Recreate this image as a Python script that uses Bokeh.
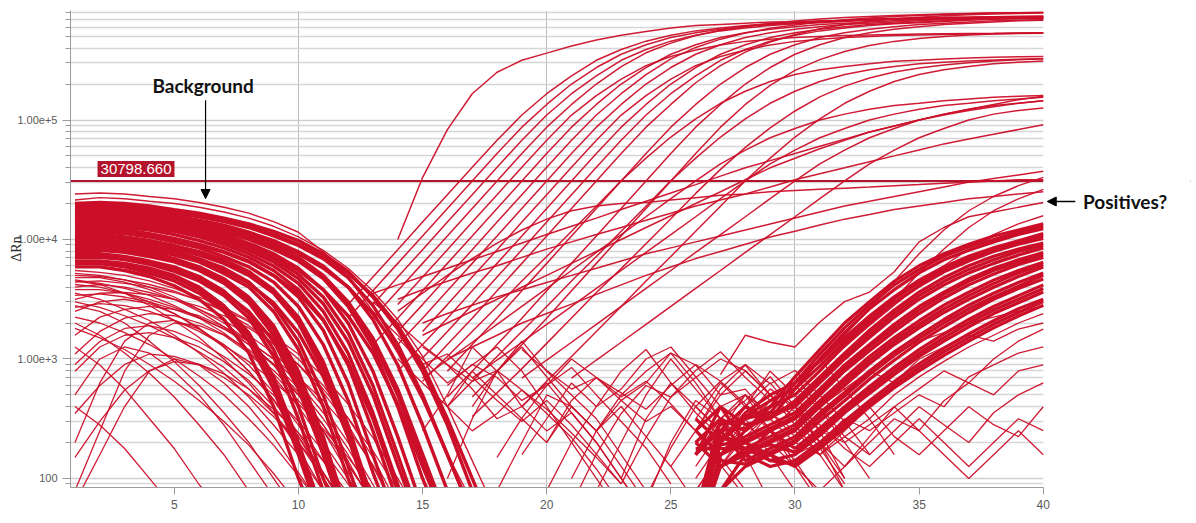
import math
from bokeh.plotting import figure
from bokeh.models import Range1d, FixedTicker, CustomJSTickFormatter, Span, Label, Arrow, NormalHead, BoxAnnotation
from bokeh.embed import file_html
from bokeh.resources import INLINE

# ---------------- data ----------------
x_ticks = [5, 10, 15, 20, 25, 30, 35, 40]
x_grid_ticks = [10, 20, 30]
y_tick_values = [100, 1000, 10000, 100000]
y_tick_labels = ["100", "1.00e+3", "1.00e+4", "1.00e+5"]
threshold = 30798.66
threshold_text = "30798.660"
last_cycle = 40

# background curves: values at cycles 1, 2, 3, ...
background_top = [
    [24000, 24500, 24000, 22900, 21900, 20400, 18600, 16600, 14100, 11500, 7900, 4800, 2500, 1120, 450, 160, 63],
    [21400, 22400, 21900, 20900, 20000, 18600, 17000, 15100, 12900, 10500, 8100, 5750, 3700, 2140, 1050, 400, 141, 50],
]
background_band = [
    [20000, 20400, 20000, 19100, 17800, 16600, 15100, 13500, 11700, 9800, 7600, 5400, 3300, 1780, 790, 280, 79],
    [18600, 19100, 18600, 17800, 16600, 15500, 14100, 12600, 10700, 8900, 6900, 4800, 2800, 1320, 500, 158, 50],
    [17800, 18200, 17800, 17000, 15800, 14500, 13200, 11500, 9800, 7900, 6000, 4000, 2140, 890, 280, 79],
    [16600, 17000, 16600, 15800, 14800, 13500, 12000, 10500, 8900, 7100, 5000, 3000, 1410, 500, 141, 40],
    [15800, 16200, 15800, 15100, 14100, 12900, 11500, 10000, 8300, 6600, 4700, 2750, 1260, 400, 100, 32],
    [15100, 15500, 15100, 14500, 13500, 12300, 11000, 9300, 7600, 5750, 3800, 2000, 790, 224, 56],
    [14100, 14500, 14100, 13500, 12600, 11500, 10000, 8500, 6900, 5100, 3300, 1660, 600, 158, 40],
    [13200, 13500, 13200, 12600, 11700, 10500, 9100, 7600, 6000, 4300, 2500, 1120, 355, 89, 25],
    [12600, 12900, 12600, 12000, 11000, 9800, 8500, 7100, 5500, 3800, 2140, 890, 250, 63],
    [12000, 12300, 12000, 11200, 10200, 9100, 7900, 6600, 5000, 3300, 1740, 630, 158, 40],
    [11200, 11500, 11200, 10500, 9500, 8500, 7200, 5900, 4400, 2750, 1320, 450, 112, 32],
    [10700, 11000, 10500, 9800, 8900, 7900, 6800, 5400, 3800, 2240, 950, 280, 63],
    [10000, 10200, 9800, 9100, 8300, 7400, 6300, 5000, 3550, 2000, 790, 224, 50],
    [9500, 9800, 9300, 8700, 7900, 6900, 5750, 4400, 2800, 1410, 500, 126, 32],
    [8900, 9100, 8700, 8100, 7400, 6500, 5200, 4000, 2500, 1200, 400, 100, 32],
    [8500, 8700, 8300, 7800, 6900, 5900, 4700, 3300, 1900, 790, 224, 50],
    [7900, 8100, 7800, 7200, 6500, 5500, 4300, 2950, 1580, 630, 158, 40],
    [7600, 7600, 7200, 6600, 5900, 4900, 3700, 2400, 1200, 400, 100, 32],
    [7100, 7100, 6800, 6200, 5400, 4500, 3400, 2200, 1050, 316, 79],
    [6600, 6600, 6300, 5750, 5000, 4000, 2800, 1660, 710, 200, 50],
    [6300, 6300, 5900, 5200, 4500, 3550, 2500, 1410, 560, 158, 40],
    [5900, 5900, 5500, 4900, 4100, 3160, 2140, 1120, 400, 100, 32],
    [19500, 20000, 19500, 18600, 17400, 15800, 14500, 12900, 11000, 9100, 7200, 5200, 3400, 1900, 890, 316, 100, 32],
    [17400, 17800, 17400, 16600, 15500, 14100, 12600, 11000, 9300, 7600, 5750, 4000, 2400, 1200, 480, 158, 50],
    [14500, 14800, 14500, 13800, 12900, 11700, 10500, 8900, 7200, 5500, 3800, 2300, 1120, 420, 126, 40],
    [11500, 11700, 11500, 11000, 10000, 8900, 7800, 6500, 5000, 3550, 2100, 950, 316, 79],
    [9100, 9300, 8900, 8300, 7600, 6600, 5500, 4300, 2950, 1660, 710, 224, 56],
    [7200, 7200, 6900, 6300, 5600, 4700, 3600, 2500, 1410, 560, 158, 40],
    [16200, 16600, 16200, 15500, 14500, 13200, 11700, 10200, 8500, 6800, 4900, 3000, 1500, 560, 160, 45],
    [13800, 14100, 13800, 13100, 12100, 11000, 9600, 8100, 6500, 4700, 2900, 1400, 500, 130, 35],
    [10400, 10600, 10200, 9500, 8600, 7600, 6500, 5200, 3700, 2100, 870, 250, 56],
    [8200, 8400, 8000, 7500, 6700, 5700, 4500, 3100, 1750, 700, 190, 45],
    [6500, 6500, 6100, 5500, 4800, 3800, 2650, 1550, 640, 180, 45],
]
background_loose = [
    [5200, 5000, 4600, 4000, 3300, 2600, 2000, 1410, 890, 500, 250, 112, 50],
    [4500, 4200, 3550, 2800, 2100, 1510, 1000, 630, 355, 178, 79],
    [4000, 4200, 4000, 3600, 3160, 2600, 2100, 1580, 1120, 710, 400, 200, 89, 40],
    [3550, 3160, 2600, 2100, 1580, 1120, 760, 480, 280, 158, 79],
    [3160, 3550, 3600, 3450, 3160, 2750, 2300, 1820, 1320, 890, 525, 280, 126, 50],
    [2800, 2500, 2000, 1410, 950, 600, 355, 200, 100, 50],
    [2500, 3000, 3160, 2900, 2400, 1820, 1260, 790, 450, 224, 100, 50],
    [2000, 1580, 1120, 760, 480, 280, 158, 79],
    [1580, 2240, 2600, 2750, 2600, 2300, 1860, 1410, 1000, 630, 355, 178, 79],
    [1260, 890, 560, 316, 178, 89, 50],
    [790, 1260, 1580, 1660, 1510, 1260, 950, 660, 400, 224, 112, 56],
    [500, 1000, 1260, 1120, 790, 500, 280, 141, 71],
    [400, 280, 178, 100, 56],
    [79, 250, 790, 1580, 2000, 1900, 1580, 1120, 710, 400, 200, 100, 50],
    [63, 158, 400, 790, 1000, 890, 630, 400, 224, 112, 56],
    [200, 630, 1410, 2000, 2100, 1780, 1320, 890, 525, 280, 141, 63],
    [4800, 4800, 4400, 3800, 3160, 2500, 1860, 1320, 890, 525, 280, 132, 63],
    [3800, 3800, 3550, 3160, 2700, 2240, 1780, 1320, 910, 575, 316, 158, 71],
    [2240, 2000, 1660, 1320, 1000, 720, 500, 316, 190, 105, 56],
    [4200, 4000, 3550, 3000, 2400, 1780, 1260, 790, 460, 240, 112, 50],
    [5500, 5300, 5000, 4500, 3900, 3300, 2700, 2100, 1500, 1000, 600, 320, 150, 60],
    [3400, 3500, 3300, 3000, 2600, 2200, 1800, 1400, 1000, 700, 450, 260, 130, 55],
    [1100, 1700, 2200, 2400, 2300, 2000, 1600, 1200, 800, 500, 280, 140, 60],
    [3000, 2700, 2300, 1900, 1500, 1150, 850, 560, 350, 200, 100, 50],
    [4600, 4300, 3900, 3400, 2800, 2200, 1650, 1150, 750, 450, 250, 130, 65],
    [2700, 2900, 2800, 2500, 2100, 1700, 1300, 950, 650, 420, 260, 150, 80],
    [1800, 1500, 1200, 900, 650, 450, 300, 190, 110, 60],
    [900, 1400, 1800, 1900, 1700, 1400, 1050, 750, 500, 300, 170, 90, 45],
    [350, 600, 900, 1100, 1050, 900, 700, 500, 330, 200, 110, 55],
    [5000, 4900, 4600, 4200, 3700, 3100, 2500, 1900, 1350, 900, 560, 320, 170, 80],
    [150, 300, 550, 800, 950, 900, 750, 560, 380, 240, 140, 75],
    [4400, 4500, 4300, 4000, 3600, 3100, 2600, 2050, 1550, 1100, 720, 420, 220, 100, 45],
]

# low, jagged curves in the middle cycles
noise_start = [14, 15, 16, 18, 19, 20, 21, 22, 17, 23, 13, 24, 25, 15, 16, 20,
               14, 18, 21, 23, 13, 19, 24, 16]
noise_values = [
    [1000, 630, 400, 790, 500, 316, 200, 400, 250, 126, 63],
    [250, 500, 1260, 790, 400, 250, 355, 200, 100, 50],
    [100, 316, 790, 1410, 790, 500, 316, 158, 79],
    [79, 200, 500, 400, 250, 500, 790, 1120, 630, 316, 158, 63],
    [158, 316, 630, 400, 560, 1000, 1260, 710, 400, 500, 250, 126, 63],
    [79, 200, 400, 790, 1200, 630, 355, 224, 316, 158, 79],
    [100, 250, 450, 630, 1120, 890, 500, 560, 316, 400, 200, 100],
    [79, 200, 500, 1000, 560, 316, 450, 710, 400, 200, 79],
    [400, 790, 1260, 710, 400, 250, 400, 224, 126, 63],
    [100, 316, 630, 400, 250, 400, 790, 500, 250, 100],
    [2500, 1580, 1000, 630, 890, 1260, 790, 400, 200, 100, 50],
    [63, 200, 450, 316, 200, 355, 630, 1000, 560, 316, 158],
    [126, 250, 560, 890, 500, 280, 158, 79],
    [1260, 890, 560, 316, 400, 630, 355, 200, 100, 50],
    [600, 900, 700, 450, 600, 850, 500, 300, 180, 90],
    [200, 450, 700, 520, 380, 600, 900, 650, 420, 260, 140, 70],
    [1500, 900, 1100, 700, 450, 300, 450, 280, 160, 90],
    [150, 320, 600, 1000, 700, 480, 650, 420, 250, 130, 70],
    [60, 160, 350, 600, 480, 700, 1000, 800, 500, 320, 180, 90],
    [90, 220, 480, 800, 1150, 700, 450, 600, 380, 200, 100],
    [3000, 2000, 1300, 900, 650, 800, 550, 350, 220, 120, 60],
    [1200, 800, 560, 700, 450, 300, 400, 250, 150, 80],
    [70, 180, 400, 650, 900, 620, 800, 500, 300, 160],
    [400, 250, 350, 550, 380, 240, 150, 90],
]

# amplification curves: first cycle and values
amp_start = [14, 12, 12, 13, 13, 14, 13, 14, 14, 15, 14, 15, 15, 16, 16, 17,
             15, 16, 17, 19, 15, 17, 19, 21, 14, 15, 14, 15, 16, 13]
amp_values = [
    [10000, 33000, 83000, 166000, 251000, 316000, 363000, 417000, 468000, 513000, 550000, 589000, 617000, 631000, 646000, 661000, 661000, 676000, 676000, 692000, 692000, 692000, 708000, 708000, 708000, 708000, 724000],
    [2850, 4850, 8200, 14000, 23700, 40300, 67600, 110000, 166000, 234000, 316000, 389000, 457000, 513000, 557000, 589000, 617000, 638000, 653000, 668000, 684000, 700000, 708000, 716000, 720000, 725000, 730000, 735000, 740000],
    [2190, 3720, 6310, 10700, 18200, 30900, 52500, 87100, 135000, 200000, 275000, 355000, 427000, 490000, 537000, 575000, 603000, 631000, 646000, 661000, 676000, 692000, 708000, 708000, 724000, 724000, 730000, 735000, 740000],
    [2850, 4850, 8200, 14000, 23700, 40300, 67600, 110000, 166000, 234000, 316000, 389000, 457000, 513000, 557000, 589000, 617000, 638000, 653000, 668000, 684000, 700000, 708000, 716000, 720000, 725000, 730000, 735000],
    [2190, 3720, 6310, 10700, 18200, 30900, 52500, 87100, 135000, 200000, 280000, 365000, 440000, 510000, 565000, 610000, 645000, 675000, 700000, 720000, 735000, 750000, 760000, 770000, 780000, 785000, 790000, 795000],
    [2850, 4850, 8200, 14000, 23700, 40300, 67600, 110000, 160000, 220000, 285000, 340000, 385000, 425000, 455000, 475000, 490000, 500000, 510000, 515000, 520000, 525000, 528000, 530000, 532000, 535000, 538000],
    [1320, 2190, 3720, 6310, 10700, 18200, 30900, 52500, 87100, 135000, 200000, 275000, 355000, 427000, 490000, 537000, 575000, 603000, 631000, 646000, 661000, 676000, 692000, 700000, 708000, 712000, 716000, 720000],
    [1700, 2850, 4850, 8200, 14000, 23700, 40300, 67600, 110000, 166000, 240000, 325000, 405000, 475000, 535000, 585000, 625000, 660000, 690000, 715000, 735000, 750000, 765000, 775000, 785000, 790000, 795000],
    [1320, 2190, 3720, 6310, 10700, 18200, 30900, 52500, 87100, 135000, 200000, 275000, 355000, 427000, 490000, 537000, 575000, 603000, 631000, 646000, 661000, 676000, 692000, 700000, 708000, 712000, 716000],
    [1700, 2850, 4850, 8200, 14000, 23700, 40300, 67600, 110000, 160000, 220000, 285000, 340000, 385000, 425000, 455000, 475000, 490000, 500000, 510000, 515000, 520000, 525000, 528000, 530000, 532000],
    [790, 1320, 2190, 3720, 6310, 10700, 18200, 30900, 52500, 87100, 135000, 200000, 275000, 355000, 427000, 490000, 537000, 575000, 603000, 631000, 646000, 661000, 676000, 692000, 700000, 708000, 712000],
    [1020, 1700, 2850, 4850, 8200, 14000, 23700, 40300, 67600, 110000, 166000, 234000, 316000, 389000, 457000, 513000, 557000, 589000, 617000, 638000, 653000, 668000, 684000, 700000, 708000, 716000],
    [790, 1320, 2190, 3720, 6310, 10700, 18200, 30900, 52500, 87100, 135000, 205000, 285000, 370000, 450000, 520000, 580000, 630000, 670000, 700000, 725000, 745000, 760000, 770000, 780000, 785000],
    [790, 1320, 2190, 3720, 6310, 10700, 18200, 30900, 52500, 87100, 135000, 200000, 275000, 355000, 427000, 490000, 537000, 575000, 603000, 631000, 646000, 661000, 676000, 685000, 692000],
    [480, 790, 1320, 2190, 3720, 6310, 10700, 18200, 30900, 52500, 87100, 135000, 200000, 275000, 355000, 427000, 490000, 537000, 575000, 603000, 631000, 646000, 661000, 676000, 685000],
    [480, 790, 1320, 2190, 3720, 6310, 10700, 18200, 30900, 52500, 87100, 135000, 195000, 260000, 320000, 375000, 420000, 455000, 480000, 500000, 515000, 525000, 532000, 538000],
    [650, 1050, 1700, 2750, 4500, 7200, 11700, 19000, 31000, 48000, 72000, 102000, 138000, 174000, 210000, 240000, 263000, 280000, 295000, 310000, 316000, 324000, 330000, 335000, 338000, 340000],
    [400, 650, 1050, 1700, 2750, 4500, 7200, 11700, 19000, 31000, 48000, 72000, 102000, 138000, 174000, 210000, 240000, 263000, 280000, 295000, 305000, 312000, 318000, 322000, 325000],
    [330, 520, 830, 1350, 2200, 3600, 5700, 9200, 14900, 24300, 38600, 59000, 86000, 119000, 156000, 192000, 225000, 252000, 272000, 288000, 302000, 312000, 320000, 326000],
    [400, 650, 1050, 1700, 2750, 4500, 7200, 11700, 19000, 31000, 48000, 72000, 102000, 138000, 174000, 210000, 240000, 263000, 280000, 295000, 305000, 312000],
    [690, 980, 1380, 1950, 2750, 3900, 5500, 7800, 11000, 15500, 22000, 31000, 43000, 56000, 71000, 85000, 100000, 112000, 123000, 132000, 138000, 145000, 150000, 155000, 158000, 160000],
    [690, 980, 1380, 1950, 2750, 3900, 5500, 7800, 11000, 15500, 22000, 31000, 43000, 56000, 71000, 85000, 100000, 112000, 123000, 132000, 138000, 145000, 150000, 155000],
    [690, 980, 1380, 1950, 2750, 3900, 5500, 7800, 11000, 15500, 22000, 31000, 43000, 56000, 71000, 85000, 100000, 112000, 123000, 132000, 138000, 145000],
    [690, 980, 1380, 1950, 2750, 3900, 5500, 7800, 11000, 15500, 22000, 31000, 43000, 56000, 71000, 85000, 100000, 112000, 120000, 126000],
    [3160, 3800, 4470, 5250, 6030, 7080, 8300, 9550, 11000, 12600, 14500, 16600, 19100, 21400, 24000, 27500, 31600, 35500, 39800, 44700, 50100, 56200, 63100, 69200, 75900, 83200, 91200],
    [2000, 2400, 2820, 3310, 3800, 4370, 5010, 5750, 6610, 7590, 8510, 9550, 10700, 12000, 13500, 15100, 17000, 19100, 20900, 22900, 25100, 27500, 30200, 32400, 34700, 37200],
    [2510, 3550, 5010, 6920, 9330, 12000, 14800, 17400, 19100, 20000, 20400, 21400, 22400, 23400, 24000, 25100, 25700, 26300, 26900, 27500, 28200, 28800, 29500, 30200, 30900, 31600, 31600],
    [1580, 2000, 2510, 3160, 3980, 5010, 6310, 7940, 10000, 12600, 15800, 20000, 25100, 31600, 39800, 47900, 57500, 67600, 79400, 89100, 100000, 110000, 120000, 129000, 138000, 145000],
    [1000, 1260, 1580, 2000, 2400, 2880, 3470, 4170, 5010, 5890, 6920, 7940, 9120, 10500, 11700, 13200, 14800, 16200, 17800, 19100, 20400, 21900, 22900, 24000, 25100],
    [3550, 4170, 4900, 5750, 6760, 7940, 9330, 11000, 12900, 15100, 17800, 20900, 24500, 28800, 33900, 39800, 45700, 52500, 60300, 69200, 79400, 89100, 100000, 112000, 123000, 135000, 148000, 158000],
]

# late rising background: values at cycles 26..40
late_start = 26
late_band = [
    [50, 316, 251, 398, 708, 1200, 2000, 3020, 4470, 6030, 7590, 9120, 10700, 12000, 13500],
    [158, 282, 316, 355, 631, 1100, 1820, 2820, 4170, 5620, 7240, 8710, 10000, 11500, 12900],
    [45, 251, 398, 316, 562, 1000, 1660, 2630, 3800, 5250, 6760, 8130, 9550, 11000, 12300],
    [316, 200, 355, 501, 631, 955, 1510, 2290, 3310, 4570, 5890, 7240, 8510, 9770, 11200],
    [60, 200, 331, 447, 562, 871, 1410, 2140, 3160, 4370, 5620, 6920, 8320, 9550, 10700],
    [40, 200, 316, 398, 501, 794, 1320, 2000, 2950, 4070, 5370, 6610, 7940, 9120, 10200],
    [158, 398, 282, 316, 447, 708, 1120, 1740, 2570, 3630, 4790, 6030, 7240, 8320, 9330],
    [50, 251, 263, 331, 417, 661, 1050, 1620, 2400, 3390, 4470, 5620, 6760, 7940, 8910],
    [35, 158, 251, 355, 398, 631, 1000, 1510, 2240, 3160, 4170, 5250, 6310, 7410, 8510],
    [251, 158, 224, 282, 355, 562, 891, 1320, 1950, 2750, 3630, 4680, 5750, 6760, 7760],
    [55, 191, 209, 263, 331, 525, 832, 1260, 1820, 2570, 3470, 4470, 5500, 6460, 7410],
    [40, 224, 200, 251, 316, 501, 794, 1170, 1700, 2400, 3240, 4170, 5130, 6170, 7080],
    [200, 126, 178, 224, 282, 447, 692, 1050, 1510, 2090, 2820, 3630, 4570, 5500, 6460],
    [45, 126, 166, 209, 263, 417, 646, 977, 1410, 1950, 2630, 3390, 4270, 5250, 6170],
    [30, 126, 158, 200, 251, 398, 603, 912, 1320, 1820, 2450, 3160, 3980, 4900, 5890],
    [158, 251, 141, 178, 224, 355, 525, 794, 1150, 1580, 2140, 2820, 3550, 4370, 5250],
    [50, 141, 132, 166, 209, 331, 490, 741, 1070, 1480, 2000, 2630, 3310, 4070, 5010],
    [40, 79, 126, 158, 200, 302, 447, 676, 977, 1380, 1860, 2450, 3160, 3890, 4680],
    [200, 316, 158, 251, 178, 263, 398, 589, 851, 1200, 1620, 2140, 2750, 3390, 4170],
    [45, 224, 178, 191, 166, 245, 380, 550, 794, 1120, 1510, 2000, 2570, 3160, 3890],
    [35, 158, 200, 141, 158, 229, 355, 513, 741, 1050, 1410, 1860, 2400, 2950, 3630],
    [50, 79, 158, 126, 141, 200, 302, 447, 646, 912, 1230, 1620, 2090, 2630, 3160],
    [178, 178, 178, 141, 132, 186, 282, 417, 603, 851, 1150, 1510, 1950, 2450, 3020],
    [251, 398, 200, 158, 126, 178, 263, 398, 575, 794, 1070, 1410, 1820, 2290, 2820],
]
late_loose = [
    [158, 316, 501, 316, 200, 158, 224, 316, 501, 708, 955, 1260, 1580, 2000, 2400],
    [79, 158, 316, 562, 398, 251, 200, 282, 398, 562, 794, 631, 1000, 1410, 1780],
    [316, 631, 398, 251, 158, 200, 316, 251, 355, 501, 398, 708, 891, 1120, 1260],
    [100, 200, 398, 631, 355, 200, 126, 200, 316, 251, 447, 631, 501, 794, 891],
    [200, 126, 251, 447, 708, 398, 224, 158, 251, 398, 282, 200, 355, 501, 631],
    [63, 126, 224, 355, 251, 158, 251, 398, 224, 158, 251, 398, 282, 224, 398],
    [398, 251, 158, 251, 398, 282, 178, 126, 200, 316, 200, 126, 200, 316, 251],
    [79, 158, 282, 200, 126, 79, 126, 224, 398, 251, 158, 100, 158, 251, 158],
    [126, 251, 501, 355, 224, 316, 501, 794, 631, 1000, 1260, 1580, 1410, 1780, 2000],
    [251, 501, 794, 501, 316, 398, 562, 794, 1120, 1410, 1660, 2000, 2240, 2510, 2750],
]

# "Positives?" curves
positive_start = [27, 30, 31, 32]
positive_values = [
    [741, 1580, 1380, 1260, 2040, 3020, 3630, 5370, 9550, 12600, 15500, 17000, 18600, 20400],
    [631, 1000, 1580, 2630, 4470, 7590, 12000, 17400, 22900, 28200, 33100],
    [794, 1260, 2000, 3160, 5250, 8320, 12600, 17400, 21900, 26300],
    [1260, 1910, 2820, 4170, 6030, 8320, 11000, 13500, 15800],
]

# ---------------- figure ----------------
RED = "#cc0f29"
DARK_RED = "#b3142b"

def lines(starts, values):
    xs = [list(range(s, s + len(v))) for s, v in zip(starts, values)]
    return xs, [list(v) for v in values]

x_start = 0.82
p = figure(width=1192, height=515, x_range=Range1d(x_start, 45.93), y_range=Range1d(84, 8.25e5),
           y_axis_type="log", output_backend="svg", toolbar_location=None,
           min_border_left=70, min_border_right=2, min_border_top=10, min_border_bottom=28)
p.outline_line_color = None
p.background_fill_color = "white"
p.border_fill_color = "white"

minor = [k * 10 ** e for e in range(1, 6) for k in range(2, 10)]
p.yaxis.ticker = FixedTicker(ticks=y_tick_values, minor_ticks=minor)
p.yaxis.formatter = CustomJSTickFormatter(args=dict(vals=y_tick_values, labs=y_tick_labels), code="""
const i = vals.findIndex(v => Math.abs(v - tick) / v < 1e-6);
return i >= 0 ? labs[i] : "";
""")
p.xaxis.ticker = FixedTicker(ticks=x_ticks)
p.xaxis.bounds = (x_start, last_cycle)
p.xgrid.ticker = FixedTicker(ticks=x_grid_ticks)

for ax in (p.xaxis, p.yaxis):
    ax.axis_line_color = "#9a9a9a"
    ax.major_tick_line_color = "#9a9a9a"
    ax.major_label_text_color = "#5a5a5a"
    ax.major_label_text_font = "Liberation Sans"
    ax.major_tick_in = 0
p.xaxis.major_tick_out = 7
p.xaxis.minor_tick_line_color = None
p.xaxis.major_label_text_font_size = "12px"
p.yaxis.major_tick_out = 8
p.yaxis.minor_tick_out = 5
p.yaxis.minor_tick_in = 0
p.yaxis.minor_tick_line_color = "#9a9a9a"
p.yaxis.major_label_text_font_size = "11px"
p.yaxis.axis_label = "\u0394Rn"
p.yaxis.axis_label_text_font = "Liberation Serif"
p.yaxis.axis_label_text_font_style = "normal"
p.yaxis.axis_label_text_font_size = "14px"
p.yaxis.axis_label_text_color = "#333333"
p.yaxis.axis_label_standoff = -10

p.ygrid.grid_line_color = "#cfcfcf"
p.ygrid.grid_line_width = 1.5
p.ygrid.minor_grid_line_color = "#d6d6d6"
p.ygrid.minor_grid_line_width = 1.5
p.xgrid.grid_line_color = "#bdbdbd"
p.xgrid.grid_line_width = 1

# threshold line (under the curves), then blank out everything right of the last cycle
p.add_layout(Span(location=threshold, dimension="width", line_color=DARK_RED, line_width=2, level="underlay"))
p.add_layout(BoxAnnotation(left=last_cycle, fill_color="white", fill_alpha=1.0, line_color=None, level="underlay"))

# curves
xs, ys = lines([1] * len(background_loose), background_loose)
p.multi_line(xs, ys, line_color=RED, line_width=1.3, line_alpha=0.95)
xs, ys = lines(noise_start, noise_values)
p.multi_line(xs, ys, line_color=RED, line_width=1.3, line_alpha=0.95)
xs, ys = lines([late_start] * len(late_loose), late_loose)
p.multi_line(xs, ys, line_color=RED, line_width=1.3, line_alpha=0.95)
xs, ys = lines(amp_start, amp_values)
p.multi_line(xs, ys, line_color=RED, line_width=1.5, line_alpha=0.95)
xs, ys = lines([1] * len(background_band), background_band)
p.multi_line(xs, ys, line_color=RED, line_width=3.4, line_alpha=1.0)
xs, ys = lines([1] * len(background_top), background_top)
p.multi_line(xs, ys, line_color=RED, line_width=1.4, line_alpha=0.95)
xs, ys = lines([late_start] * len(late_band), late_band)
p.multi_line(xs, ys, line_color=RED, line_width=3.2, line_alpha=1.0)
xs, ys = lines(positive_start, positive_values)
p.multi_line(xs, ys, line_color=RED, line_width=1.4, line_alpha=0.95)

# threshold value label
p.add_layout(Label(x=1.91, y=threshold, y_offset=4, text=threshold_text, text_color="white",
                   text_font="Liberation Sans", text_font_size="15px", text_baseline="bottom",
                   background_fill_color=DARK_RED, padding=3))

# annotations
p.add_layout(Label(x=4.12, y=1.94e5, text="Background", text_font="Lato", text_font_style="bold",
                   text_font_size="19px", text_baseline="middle", text_color="#111111"))
p.add_layout(Arrow(end=NormalHead(size=9, fill_color="black", line_color="black"),
                   x_start=6.26, y_start=1.46e5, x_end=6.26, y_end=22000, line_width=1.2, line_color="black"))
p.add_layout(Label(x=41.6, y=20800, text="Positives?", text_font="Lato", text_font_style="bold",
                   text_font_size="19px", text_baseline="middle", text_color="#111111"))
p.add_layout(Arrow(end=NormalHead(size=9, fill_color="black", line_color="black"),
                   x_start=41.29, y_start=20800, x_end=40.16, y_end=20800, line_width=1.5, line_color="black"))

open("out.html", "w").write(file_html(p, INLINE))
